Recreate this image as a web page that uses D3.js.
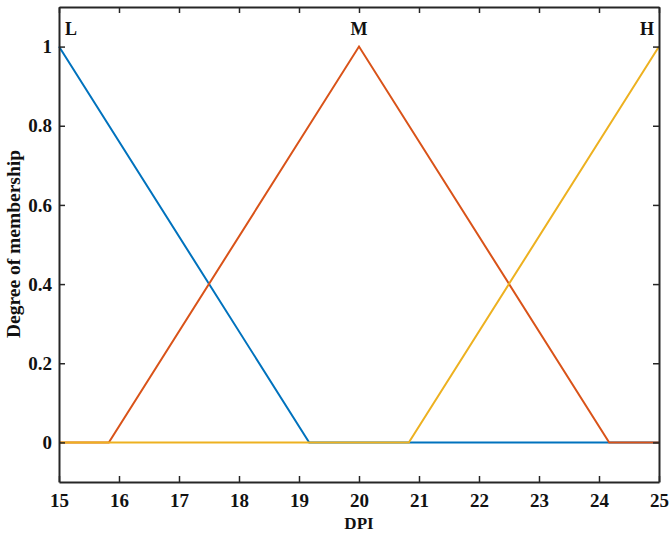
<!DOCTYPE html>
<head>
  <meta charset="utf-8" />
  <script src="https://d3js.org/d3.v7.min.js"></script>
  <style>
    body { margin: 0; background: #fff; }
    svg { display: block; }
    svg text { font-family: "Liberation Serif", "Times New Roman", serif; font-weight: bold; }
    .axis path, .axis line { stroke: #262626; }
  </style>
</head>
<body>
  <svg width="672" height="534"></svg>
  <script>
    // membership functions (DPI -> degree)
    var dpiL = [15, 19.17, 25];
    var muL = [1, 0, 0];
    var dpiM = [15, 15.83, 20, 24.17, 25];
    var muM = [0, 0, 1, 0, 0];
    var dpiH = [15, 20.83, 25];
    var muH = [0, 0, 1];
    var seriesNames = ["L", "M", "H"];
    var seriesColors = ["#0072BD", "#D95319", "#EDB120"];
    var labelX = [15, 20, 25];
    var xTicks = [15, 16, 17, 18, 19, 20, 21, 22, 23, 24, 25];
    var yTicks = [0, 0.2, 0.4, 0.6, 0.8, 1];

    var margin = { top: 7, right: 13, bottom: 52, left: 59 };
    var width = 672 - margin.left - margin.right;
    var height = 534 - margin.top - margin.bottom;

    var svg = d3.select("svg");
    var g = svg.append("g").attr("transform", "translate(" + margin.left + "," + margin.top + ")");

    var x = d3.scaleLinear().domain([15, 25]).range([0, width]);
    var y = d3.scaleLinear().domain([-0.1, 1.1]).range([height, 0]);

    var series = [
      { xs: dpiL, ys: muL },
      { xs: dpiM, ys: muM },
      { xs: dpiH, ys: muH }
    ];

    var line = d3.line()
      .x(function (d) { return x(d[0]); })
      .y(function (d) { return y(d[1]); });

    series.forEach(function (s, i) {
      g.append("path")
        .datum(d3.zip(s.xs, s.ys))
        .attr("fill", "none")
        .attr("stroke", seriesColors[i])
        .attr("stroke-width", 2)
        .attr("d", line);
    });

    // axes with inward ticks, mirrored on top/right
    var fmt = function (d) { return d3.format("~g")(d); };
    g.append("g").attr("class", "axis").attr("transform", "translate(0," + height + ")")
      .call(d3.axisBottom(x).tickValues(xTicks).tickSizeInner(-6).tickSizeOuter(0).tickPadding(12).tickFormat(fmt));
    g.append("g").attr("class", "axis")
      .call(d3.axisLeft(y).tickValues(yTicks).tickSizeInner(-6).tickSizeOuter(0).tickPadding(7).tickFormat(fmt));
    g.append("g").attr("class", "axis")
      .call(d3.axisTop(x).tickValues(xTicks).tickSizeInner(-6).tickSizeOuter(0).tickFormat(""));
    g.append("g").attr("class", "axis").attr("transform", "translate(" + width + ",0)")
      .call(d3.axisRight(y).tickValues(yTicks).tickSizeInner(-6).tickSizeOuter(0).tickFormat(""));

    g.selectAll(".axis path").attr("stroke-width", 2);
    g.selectAll(".axis line").attr("stroke-width", 1.5);
    g.selectAll(".axis text")
      .attr("fill", "#111")
      .attr("font-family", null)
      .style("font-size", "19px");

    // MF labels
    g.selectAll(".mflabel")
      .data(seriesNames)
      .enter()
      .append("text")
      .attr("x", function (d, i) { return x(labelX[i]) + (i === 0 ? 12 : i === 2 ? -12 : 0); })
      .attr("y", y(1) - 12)
      .attr("text-anchor", "middle")
      .style("font-size", "18px")
      .attr("fill", "#111")
      .text(function (d) { return d; });

    // axis titles
    svg.append("text")
      .attr("x", margin.left + width / 2)
      .attr("y", 529)
      .attr("text-anchor", "middle")
      .style("font-size", "17px")
      .attr("fill", "#111")
      .text("DPI");
    svg.append("text")
      .attr("transform", "translate(20,244) rotate(-90)")
      .attr("text-anchor", "middle")
      .style("font-size", "19.5px")
      .attr("fill", "#111")
      .text("Degree of membership");
  </script>
</body>
